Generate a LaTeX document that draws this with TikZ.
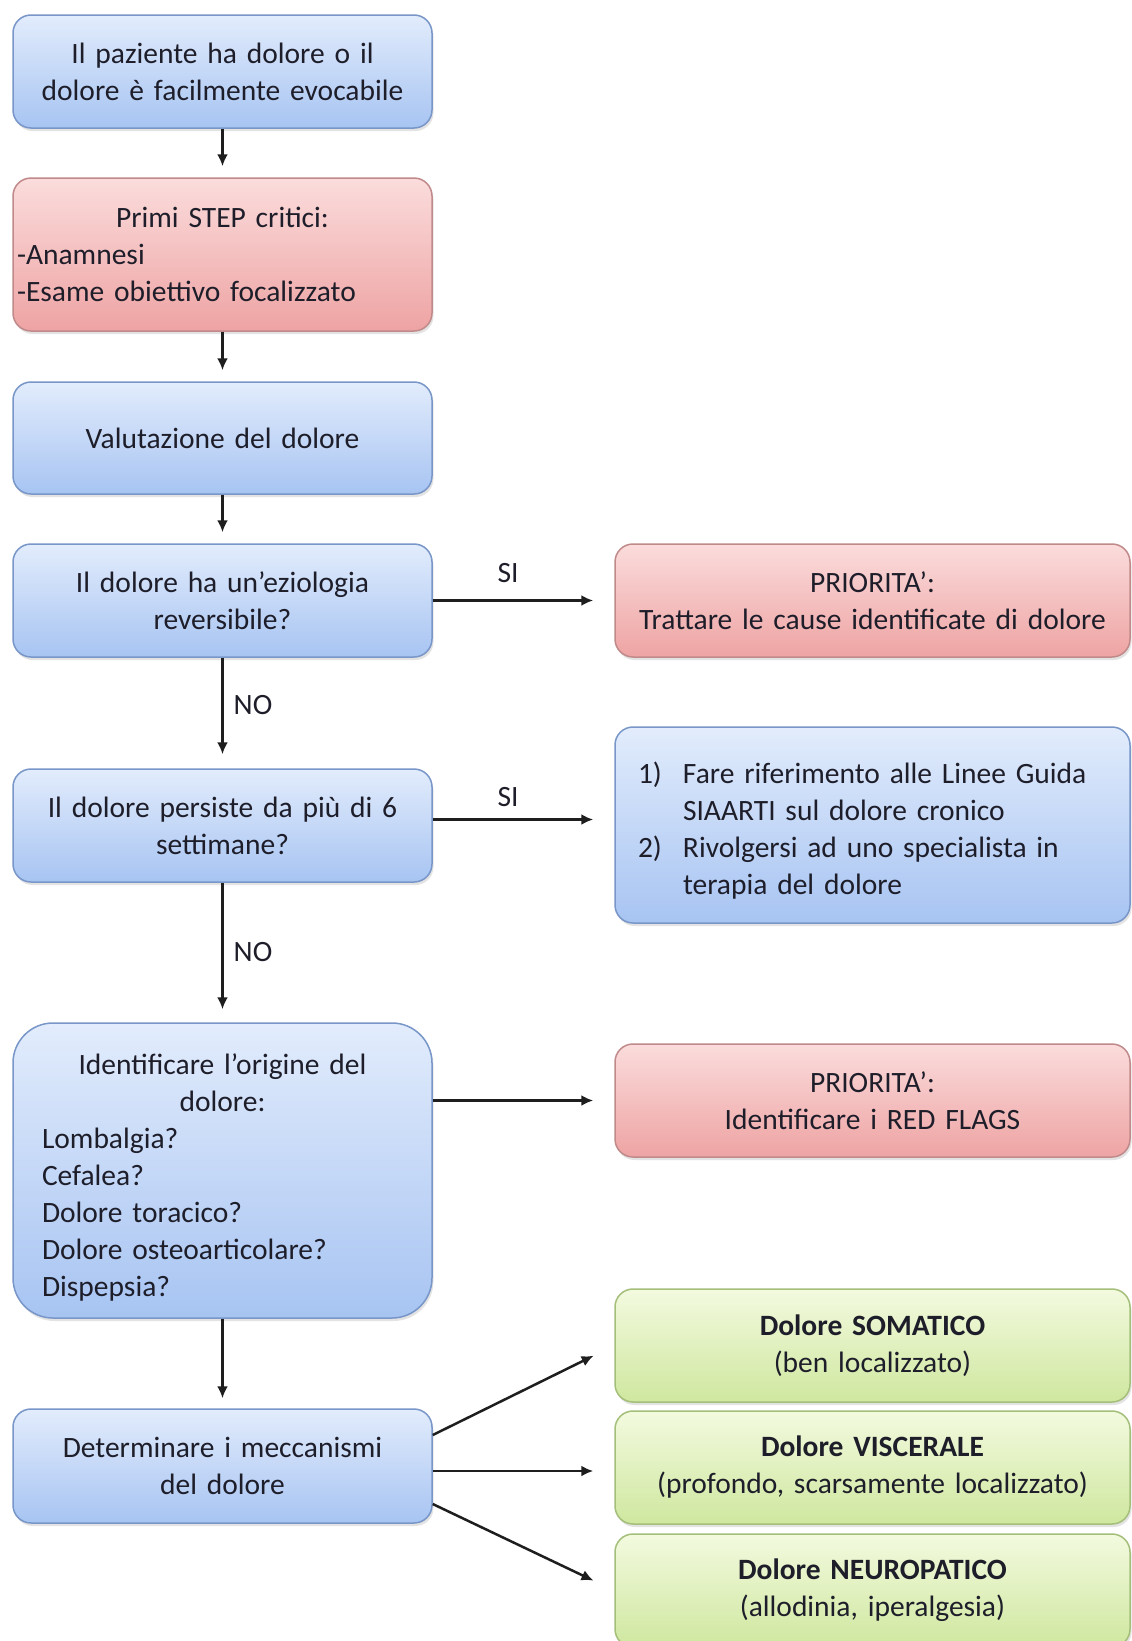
\documentclass[tikz,border=0pt]{standalone}
\usepackage{fontspec}
\setmainfont{Carlito}
\usetikzlibrary{arrows.meta,shadows}
\definecolor{bluetop}{HTML}{E2ECFC}
\definecolor{bluebot}{HTML}{A7C4F2}
\definecolor{blueline}{HTML}{7896C8}
\definecolor{redtop}{HTML}{FBDCDC}
\definecolor{redbot}{HTML}{EEA3A3}
\definecolor{redline}{HTML}{C08A8A}
\definecolor{greentop}{HTML}{F3FADF}
\definecolor{greenbot}{HTML}{CFE79F}
\definecolor{greenline}{HTML}{A4BF7A}
\definecolor{txt}{HTML}{1E1E2A}
\definecolor{arrowc}{HTML}{1E1E1E}
\newcommand\fsz{\fontsize{29.5}{37}\selectfont}
\tikzset{
  box/.style={rectangle, rounded corners=18pt, line width=1.5pt, font=\fsz, text=txt,
    align=center, inner sep=0pt,
    drop shadow={opacity=0.22, shadow xshift=1.5pt, shadow yshift=-3pt}},
  bluebox/.style={box, draw=blueline, top color=bluetop, bottom color=bluebot},
  redbox/.style={box, draw=redline, top color=redtop, bottom color=redbot},
  greenbox/.style={box, draw=greenline, top color=greentop, bottom color=greenbot},
  leftbox/.style={minimum width=419pt, text width=405pt},
  rightbox/.style={minimum width=515pt, text width=505pt},
  conn/.style={line width=2.5pt, draw=arrowc, -{Latex[length=12pt,width=11pt]}},
  lbl/.style={font=\fsz, text=txt, inner sep=0pt}
}
\begin{document}
\begin{tikzpicture}[x=1pt,y=-1pt]
\fill[white] (0,0) rectangle (1132,1641);
\useasboundingbox (0,0) rectangle (1132,1641);
% left column
\node[bluebox, leftbox, minimum height=113pt] (b1) at (222.5,71.5)
  {Il paziente ha dolore o il\\ dolore è facilmente evocabile};
\node[redbox, minimum width=419pt, text width=411pt, minimum height=153pt, align=left] (b2) at (222.5,254.5)
  {\makebox[411pt]{Primi STEP critici:}\\ -Anamnesi\\ -Esame obiettivo focalizzato};
\node[bluebox, leftbox, minimum height=112pt] (b3) at (222.5,438)
  {Valutazione del dolore};
\node[bluebox, leftbox, minimum height=113pt] (b4) at (222.5,600.5)
  {Il dolore ha un’eziologia\\ reversibile?};
\node[bluebox, leftbox, minimum height=113pt] (b5) at (222.5,825.5)
  {Il dolore persiste da più di 6\\ settimane?};
\node[bluebox, rounded corners=40pt, minimum width=419pt, text width=361pt, minimum height=295pt, align=left] (b6) at (222.5,1170.5)
  {\rule{0pt}{35pt}\makebox[361pt]{Identificare l’origine del}\\ \makebox[361pt]{dolore:}\\ Lombalgia?\\ Cefalea?\\ Dolore toracico?\\ Dolore osteoarticolare?\\ Dispepsia?};
\node[bluebox, leftbox, minimum height=114pt] (b7) at (222.5,1466)
  {Determinare i meccanismi\\ del dolore};
% right column
\node[redbox, rightbox, minimum height=113pt] (p1) at (872.5,600.5)
  {PRIORITA’:\\ Trattare le cause identificate di dolore};
\node[bluebox, minimum width=515pt, text width=469pt, minimum height=196pt, align=left] (r2) at (872.5,825)
  {\rule{0pt}{33pt}\makebox[45pt][l]{1)}Fare riferimento alle Linee Guida\\ \hspace*{45pt}SIAARTI sul dolore cronico\\
   \makebox[45pt][l]{2)}Rivolgersi ad uno specialista in\\ \hspace*{45pt}terapia del dolore};
\node[redbox, rightbox, minimum height=113pt] (p2) at (872.5,1100.5)
  {PRIORITA’:\\ Identificare i RED FLAGS};
\node[greenbox, rightbox, minimum height=113pt] (g1) at (872.5,1345.5)
  {\textbf{Dolore SOMATICO}\\ (ben localizzato)};
\node[greenbox, rightbox, minimum height=113pt] (g2) at (872.5,1467.5)
  {\textbf{Dolore VISCERALE}\\ (profondo, scarsamente localizzato)};
\node[greenbox, rightbox, minimum height=113pt] (g3) at (872.5,1590.5)
  {\textbf{Dolore NEUROPATICO}\\ (allodinia, iperalgesia)};
% connectors
\draw[conn, shorten >=11pt] (b1) -- (b2);
\draw[conn, shorten >=11pt] (b2) -- (b3);
\draw[conn, shorten >=11pt] (b3) -- (b4);
\draw[conn, shorten >=21pt] (b4) -- (p1);
\draw[conn, shorten >=14pt] (b4) -- (b5);
\draw[conn, shorten >=21pt] ([yshift=6pt]b5.east) -- ([yshift=6pt]b5.east -| r2.west);
\draw[conn, shorten >=13pt] (b5) -- (b6);
\draw[conn, shorten >=21pt] (b6.east |- p2.west) -- (p2.west);
\draw[conn, shorten >=10pt] (b6) -- (b7);
\draw[conn, shorten >=23pt] ([yshift=31pt]b7.east) -- (g1.west);
\draw[conn, shorten >=21pt] ([yshift=-5pt]b7.east) -- ([yshift=-5pt]b7.east -| g2.west);
\draw[conn, shorten >=23pt] ([yshift=-38pt]b7.east) -- (g3.west);
% labels
\node[lbl] (si1) at (508,573) {SI};
\node[lbl] (si2) at (508,797) {SI};
\node[lbl] (no1) at (253,705) {NO};
\node[lbl] (no2) at (253,952) {NO};
\end{tikzpicture}
\end{document}
